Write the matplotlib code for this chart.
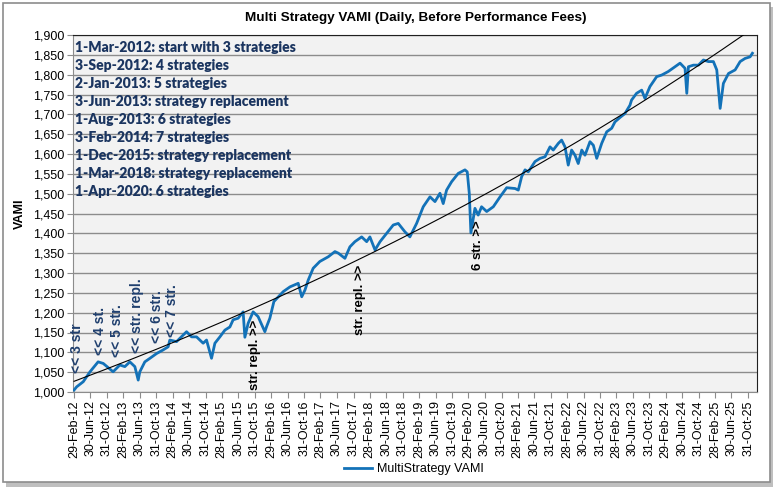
import numpy as np
import pandas as pd
import matplotlib
matplotlib.use('Agg')
import matplotlib.pyplot as plt
from matplotlib.patches import Rectangle

# --- datos (VAMI diario, antes de comisiones) ---
fechas = [
    '2012-03-01', '2012-03-20', '2012-05-08', '2012-06-27', '2012-08-26', '2012-10-03',
    '2012-12-15', '2013-02-03', '2013-03-12', '2013-04-18', '2013-05-25', '2013-06-19',
    '2013-07-01', '2013-08-07', '2013-09-14', '2013-11-02', '2013-12-20', '2014-01-27',
    '2014-02-08', '2014-03-30', '2014-06-12', '2014-07-19', '2014-08-25', '2014-10-13',
    '2014-11-07', '2014-12-14', '2015-01-08', '2015-02-14', '2015-03-23', '2015-04-29',
    '2015-05-23', '2015-06-29', '2015-08-05', '2015-08-18', '2015-09-11', '2015-10-18',
    '2015-11-24', '2016-01-13', '2016-01-26', '2016-02-19', '2016-03-20', '2016-05-28',
    '2016-07-17', '2016-09-16', '2016-10-12', '2016-11-05', '2016-11-29', '2017-01-05',
    '2017-02-23', '2017-04-27', '2017-06-15', '2017-07-10', '2017-08-28', '2017-10-04',
    '2017-11-10', '2017-12-30', '2018-02-05', '2018-03-01', '2018-04-08', '2018-05-15',
    '2018-07-03', '2018-08-21', '2018-09-27', '2018-11-15', '2018-12-22', '2019-02-10',
    '2019-03-31', '2019-05-20', '2019-06-26', '2019-08-02', '2019-08-26', '2019-09-20',
    '2019-10-27', '2019-12-15', '2020-02-03', '2020-02-20', '2020-03-06', '2020-03-18',
    '2020-04-17', '2020-05-11', '2020-06-05', '2020-07-13', '2020-08-31', '2020-10-20',
    '2020-12-08', '2021-02-08', '2021-03-04', '2021-03-29', '2021-04-23', '2021-05-17',
    '2021-07-06', '2021-08-12', '2021-09-18', '2021-10-25', '2021-11-18', '2021-12-26',
    '2022-01-19', '2022-02-13', '2022-03-09', '2022-04-03', '2022-04-28', '2022-05-22',
    '2022-06-17', '2022-07-11', '2022-08-17', '2022-09-11', '2022-10-06', '2022-11-12',
    '2022-12-19', '2023-01-25', '2023-02-18', '2023-03-27', '2023-05-03', '2023-06-09',
    '2023-06-21', '2023-07-28', '2023-09-04', '2023-09-28', '2023-11-04', '2023-12-24',
    '2024-01-30', '2024-03-19', '2024-05-08', '2024-06-14', '2024-07-21', '2024-08-03',
    '2024-08-15', '2024-09-21', '2024-10-28', '2024-12-04', '2025-01-10', '2025-02-16',
    '2025-03-13', '2025-03-25', '2025-04-07', '2025-05-01', '2025-06-08', '2025-07-27',
    '2025-09-02', '2025-10-09', '2025-11-15', '2025-12-02',
]
vami = [
    1005, 1013, 1026, 1051, 1076, 1072,
    1051, 1068, 1064, 1076, 1064, 1030,
    1051, 1076, 1085, 1097, 1106, 1114,
    1131, 1127, 1152, 1139, 1139, 1123,
    1131, 1085, 1123, 1139, 1156, 1164,
    1182, 1186, 1202, 1138, 1173, 1202,
    1190, 1152, 1165, 1186, 1228, 1253,
    1265, 1274, 1240, 1257, 1282, 1312,
    1329, 1341, 1354, 1350, 1337, 1366,
    1379, 1391, 1379, 1391, 1358, 1379,
    1400, 1421, 1425, 1404, 1391, 1425,
    1467, 1492, 1480, 1501, 1475, 1509,
    1530, 1551, 1560, 1555, 1501, 1401,
    1463, 1446, 1467, 1455, 1467, 1492,
    1515, 1513, 1509, 1543, 1560, 1555,
    1581, 1589, 1593, 1618, 1610, 1627,
    1635, 1618, 1572, 1610, 1597, 1576,
    1610, 1597, 1631, 1622, 1589, 1627,
    1656, 1665, 1681, 1692, 1702, 1723,
    1736, 1753, 1761, 1740, 1770, 1795,
    1799, 1808, 1820, 1829, 1816, 1753,
    1820, 1824, 1824, 1837, 1833, 1833,
    1812, 1766, 1715, 1778, 1803, 1812,
    1833, 1841, 1845, 1854,
]

# linea de tendencia exponencial (leida: 1027 al inicio, 1900 en sep-2025)
TREND_START = 1027
TREND_END_DATE = '2025-09-26'
TREND_END = 1900

notas = [
    '1-Mar-2012: start with 3 strategies',
    '3-Sep-2012: 4 strategies',
    '2-Jan-2013: 5 strategies',
    '3-Jun-2013: strategy replacement',
    '1-Aug-2013: 6 strategies',
    '3-Feb-2014: 7 strategies',
    '1-Dec-2015: strategy replacement',
    '1-Mar-2018: strategy replacement',
    '1-Apr-2020: 6 strategies',
]

# etiquetas verticales: (fecha, base, texto, color)
marcas = [
    ('2012-03-22', 1048, '<< 3 str', '#1F3F6E'),
    ('2012-09-08', 1093, '<< 4 st.', '#1F3F6E'),
    ('2013-01-12', 1088, '<< 5 str.', '#1F3F6E'),
    ('2013-06-09', 1098, '<< str. repl.', '#1F3F6E'),
    ('2013-11-04', 1123, '<< 6 str.', '#1F3F6E'),
    ('2014-02-23', 1139, '<< 7 str.', '#1F3F6E'),
    ('2015-10-30', 1005, 'str. repl. >>', 'black'),
    ('2017-12-17', 1144, 'str. repl. >>', 'black'),
    ('2020-05-10', 1307, '6 str. >>', 'black'),
]

plt.rcParams['font.family'] = ['Liberation Sans', 'DejaVu Sans']

x = pd.to_datetime(fechas)
t0 = x[0]
k = np.log(TREND_END / TREND_START) / ((pd.Timestamp(TREND_END_DATE) - t0).days / 365.25)
yt_years = np.linspace(0, (pd.Timestamp('2025-12-02') - t0).days / 365.25, 200)
xt_line = t0 + pd.to_timedelta(yt_years * 365.25, unit='D')
yt_line = TREND_START * np.exp(k * yt_years)

fig = plt.figure(figsize=(7.8, 4.92), dpi=100)
fig.patch.set_facecolor('white')

# marco exterior con sombra
fig.patches.append(Rectangle((6 / 780, 1 - 487 / 492), 767 / 780, 480 / 492, transform=fig.transFigure,
                             facecolor='#BFBFBF', edgecolor='none', zorder=-2))
fig.patches.append(Rectangle((3 / 780, 1 - 482 / 492), 767 / 780, 479 / 492, transform=fig.transFigure,
                             facecolor='white', edgecolor='#8C8C8C', linewidth=1.2, zorder=-1))

ax = fig.add_axes([73 / 780, 1 - 392 / 492, (757 - 73) / 780, (392 - 35) / 492])
ax.set_facecolor('#F2F2F2')

ax.plot(x, vami, color='#1372B8', linewidth=2.0, label='MultiStrategy VAMI', zorder=3)
ax.plot(xt_line, yt_line, color='black', linewidth=0.8, zorder=4)

ax.set_ylim(1000, 1900)
ax.set_yticks(np.arange(1000, 1901, 50))
ax.yaxis.set_major_formatter(matplotlib.ticker.FuncFormatter(lambda v, p: f'{v:,.0f}'))
ax.grid(axis='y', color='#8C8C8C', linewidth=1.0)
ax.set_axisbelow(True)

ticks = pd.date_range('2012-02-29', '2025-10-31', freq='4ME')
ax.set_xlim(pd.Timestamp('2012-02-22'), pd.Timestamp('2026-01-05'))
ax.set_xticks(ticks)
ax.set_xticklabels([d.strftime('%d-%b-%y').lstrip('0') for d in ticks], rotation=90)
ax.tick_params(axis='both', labelsize=9, length=4, color='#8C8C8C', pad=2)

for s in ['left', 'bottom']:
    ax.spines[s].set_color('#8C8C8C')
for s in ['top', 'right']:
    ax.spines[s].set_color('#202020')

ax.set_ylabel('VAMI', fontsize=9, fontweight='bold', labelpad=5)
fig.text(416 / 780, 1 - 18 / 492, 'Multi Strategy VAMI (Daily, Before Performance Fees)',
         ha='center', va='center', fontsize=9.7, fontweight='bold')

# recuadro de notas arriba a la izquierda
for i, n in enumerate(notas):
    fig.text(75 / 780, 1 - (47 + 18 * i) / 492, n, ha='left', va='center',
             fontsize=10, fontweight='heavy', color='#1B3560', family=['Lato', 'DejaVu Sans'])

for fecha, base, txt, col in marcas:
    ax.text(pd.Timestamp(fecha), base, txt, rotation=90, ha='center', va='bottom',
            fontsize=10 if col != 'black' else 9.5, fontweight='bold', color=col, zorder=5)

fig.legend(loc='center', bbox_to_anchor=(414 / 780, 1 - 469 / 492), frameon=False,
           fontsize=9, handlelength=2.2, handletextpad=0.4)

plt.savefig('out.png', dpi=100)
